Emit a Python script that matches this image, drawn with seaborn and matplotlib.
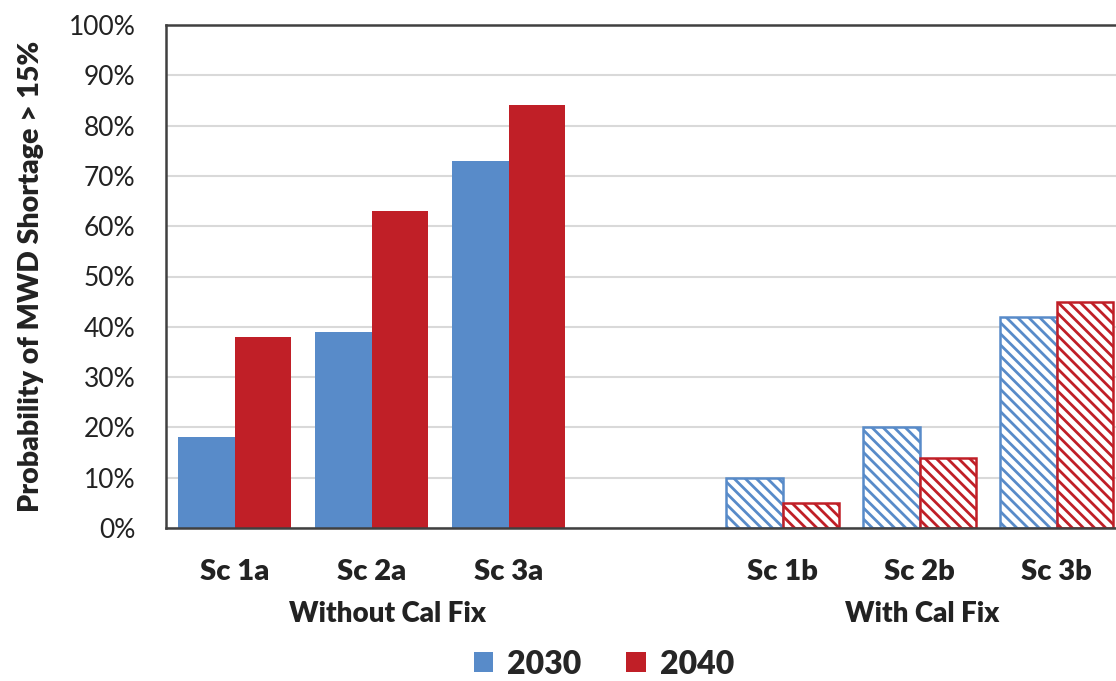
import pandas as pd
import seaborn as sns
import matplotlib.pyplot as plt
from matplotlib.patches import Patch

# Data
scenarios = ["Sc 1a", "Sc 2a", "Sc 3a", "Sc 1b", "Sc 2b", "Sc 3b"]
shortage_2030 = [18, 39, 73, 10, 20, 42]
shortage_2040 = [38, 63, 84, 5, 14, 45]
years = ["2030", "2040"]
group_labels = ["Without Cal Fix", "With Cal Fix"]

# an empty slot separates the two groups
order = ["Sc 1a", "Sc 2a", "Sc 3a", " ", "Sc 1b", "Sc 2b", "Sc 3b"]
colors = {"2030": "#588BC9", "2040": "#C01F27"}

df = pd.DataFrame({
    "scenario": scenarios * 2,
    "year": ["2030"] * len(scenarios) + ["2040"] * len(scenarios),
    "value": shortage_2030 + shortage_2040,
})

sns.set_style("white")
plt.rcParams["font.family"] = ["Lato", "DejaVu Sans"]
plt.rcParams["hatch.linewidth"] = 2.0

fig = plt.figure(figsize=(11.16, 6.81), dpi=100)
ax = fig.add_axes([166 / 1116, 1 - 528 / 681, 7 * 137 / 1116, 503 / 681])

sns.barplot(data=df, x="scenario", y="value", hue="year", order=order,
            hue_order=years, palette=colors, width=0.82, gap=0,
            saturation=1, linewidth=0, legend=False, ax=ax)

# hatch the "with Cal Fix" scenarios
for bar in ax.patches:
    x_mid = bar.get_x() + bar.get_width() / 2
    if x_mid > 3 and bar.get_height() > 0:
        col = bar.get_facecolor()
        bar.set_facecolor("white")
        bar.set_edgecolor(col)
        bar.set_linewidth(1.8)
        bar.set_hatch("\\\\\\")

ax.set_xlim(-0.5, 6.5)
ax.set_ylim(0, 100)
ax.set_yticks(range(0, 101, 10))
ax.set_yticklabels([f"{v}%" for v in range(0, 101, 10)], fontsize=19, color="#222222")
ax.set_xticks([0, 1, 2, 4, 5, 6])
ax.set_xticklabels([s for s in order if s.strip()], fontsize=21,
                   fontweight="heavy", color="#222222")
ax.tick_params(axis="both", length=0)
ax.tick_params(axis="x", pad=22)
ax.tick_params(axis="y", pad=22)
ax.set_xlabel("")
ax.set_ylabel("Probability of MWD Shortage > 15%", fontsize=20.5,
              fontweight="heavy", color="#222222", labelpad=18)

ax.yaxis.grid(True, color="#D9D9D9", linewidth=1.5)
ax.set_axisbelow(True)
for side in ["left", "top", "bottom"]:
    ax.spines[side].set_color("#404040")
    ax.spines[side].set_linewidth(1.8)
ax.spines["right"].set_visible(False)

# group labels under the categories
ax.text(1.12, -0.17, group_labels[0], transform=ax.get_xaxis_transform(),
        ha="center", va="center", fontsize=20, fontweight="heavy", color="#222222")
ax.text(5.02, -0.17, group_labels[1], transform=ax.get_xaxis_transform(),
        ha="center", va="center", fontsize=20, fontweight="heavy", color="#222222")

handles = [Patch(facecolor=colors[y], edgecolor="none") for y in years]
fig.legend(handles, years, loc="center", bbox_to_anchor=(604 / 1116, 1 - 664 / 681),
           ncol=2, frameon=False, handlelength=0.6, handleheight=0.6,
           handletextpad=0.45, columnspacing=1.4,
           prop={"size": 23, "weight": "heavy"})

fig.savefig("out.png", dpi=100)
